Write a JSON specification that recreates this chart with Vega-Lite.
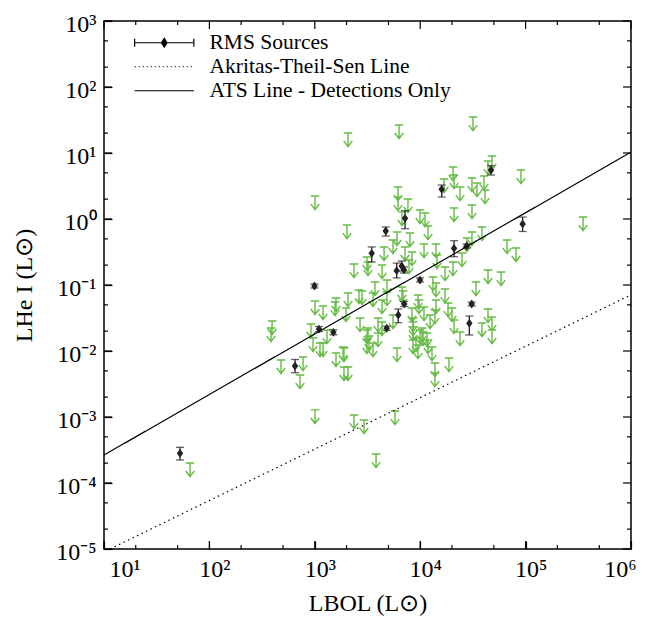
{
  "$schema": "https://vega.github.io/schema/vega-lite/v6.json",
  "width": 527,
  "height": 528,
  "autosize": "none",
  "padding": {"left": 104, "top": 21, "right": 20, "bottom": 71},
  "background": "white",
  "config": {
    "view": {"stroke": "black", "strokeWidth": 1.5},
    "axis": {
      "grid": false,
      "domain": false,
      "zindex": 1,
      "ticks": true,
      "tickColor": "black",
      "tickOpacity": 1,
      "tickWidth": 1.2,
      "labelFont": "Liberation Serif",
      "labelFontSize": 24,
      "labelColor": "black",
      "titleFont": "Liberation Serif",
      "titleFontSize": 24,
      "titleFontWeight": "normal",
      "titleColor": "black",
      "labelOverlap": false
    },
    "legend": {
      "labelFont": "Liberation Serif",
      "labelFontSize": 21.5,
      "labelColor": "black",
      "labelLimit": 400
    }
  },
  "datasets": {
    "xmajor": [{"v":10},{"v":100},{"v":1000},{"v":10000},{"v":100000},{"v":1000000}],
    "xminor": [{"v":20},{"v":50},{"v":200},{"v":500},{"v":2000},{"v":5000},{"v":20000},{"v":50000},{"v":200000},{"v":500000}],
    "ymajor": [{"v":0.00001},{"v":0.0001},{"v":0.001},{"v":0.01},{"v":0.1},{"v":1},{"v":10},{"v":100},{"v":1000}],
    "yminor": [{"v":0.00002},{"v":0.00005},{"v":0.0002},{"v":0.0005},{"v":0.002},{"v":0.005},{"v":0.02},{"v":0.05},{"v":0.2},{"v":0.5},{"v":2},{"v":5},{"v":20},{"v":50},{"v":200},{"v":500}],
    "upper": [
      {"L_bol":2065,"L_hei":20.1},{"L_bol":6295,"L_hei":26.6},{"L_bol":31700,"L_hei":35.1},{"L_bol":1005,"L_hei":2.23},
      {"L_bol":2020,"L_hei":0.811},{"L_bol":47980,"L_hei":9.01},{"L_bol":43990,"L_hei":7.56},{"L_bol":20480,"L_hei":6.14},
      {"L_bol":20940,"L_hei":4.64},{"L_bol":16820,"L_hei":4.04},{"L_bol":30980,"L_hei":4.18},{"L_bol":34590,"L_hei":3.51},
      {"L_bol":40270,"L_hei":4.48},{"L_bol":41210,"L_hei":2.75},{"L_bol":23880,"L_hei":3.05},{"L_bol":90370,"L_hei":5.52},
      {"L_bol":6155,"L_hei":3.05},{"L_bol":6155,"L_hei":2.15},{"L_bol":7656,"L_hei":2.01},{"L_bol":30980,"L_hei":1.63},
      {"L_bol":20940,"L_hei":1.47},{"L_bol":9954,"L_hei":1.37},{"L_bol":11120,"L_hei":1.23},{"L_bol":6714,"L_hei":1.28},
      {"L_bol":11860,"L_hei":0.783},{"L_bol":6026,"L_hei":0.636},{"L_bol":8000,"L_hei":0.614},{"L_bol":5521,"L_hei":0.481},
      {"L_bol":30980,"L_hei":0.636},{"L_bol":38550,"L_hei":0.757},{"L_bol":66680,"L_hei":0.481},{"L_bol":81100,"L_hei":0.364},
      {"L_bol":4539,"L_hei":0.377},{"L_bol":7178,"L_hei":0.377},{"L_bol":8356,"L_hei":0.316},{"L_bol":10870,"L_hei":0.418},
      {"L_bol":14130,"L_hei":0.418},{"L_bol":14430,"L_hei":0.285},{"L_bol":3126,"L_hei":0.266},{"L_bol":3199,"L_hei":0.223},
      {"L_bol":4345,"L_hei":0.201},{"L_bol":2355,"L_hei":0.208},{"L_bol":7830,"L_hei":0.239},{"L_bol":17190,"L_hei":0.187},
      {"L_bol":20480,"L_hei":0.223},{"L_bol":24930,"L_hei":0.305},{"L_bol":27800,"L_hei":0.515},{"L_bol":43990,"L_hei":0.169},
      {"L_bol":58480,"L_hei":0.157},{"L_bol":33810,"L_hei":0.111},{"L_bol":13220,"L_hei":0.132},{"L_bol":14130,"L_hei":0.107},
      {"L_bol":17190,"L_hei":0.0869},{"L_bol":18360,"L_hei":0.0533},{"L_bol":20040,"L_hei":0.0449},{"L_bol":9528,"L_hei":0.0705},
      {"L_bol":9750,"L_hei":0.0593},{"L_bol":10870,"L_hei":0.0464},{"L_bol":14130,"L_hei":0.0593},{"L_bol":12390,"L_hei":0.0351},
      {"L_bol":8356,"L_hei":0.0449},{"L_bol":8551,"L_hei":0.0316},{"L_bol":8551,"L_hei":0.0231},{"L_bol":9954,"L_hei":0.0208},
      {"L_bol":11610,"L_hei":0.0187},{"L_bol":20940,"L_hei":0.0295},{"L_bol":23880,"L_hei":0.0194},{"L_bol":38550,"L_hei":0.0266},
      {"L_bol":43990,"L_hei":0.0433},{"L_bol":47980,"L_hei":0.0327},{"L_bol":47980,"L_hei":0.0208},{"L_bol":6714,"L_hei":0.0933},
      {"L_bol":6871,"L_hei":0.0811},{"L_bol":4842,"L_hei":0.119},{"L_bol":4842,"L_hei":0.0783},{"L_bol":4345,"L_hei":0.0593},
      {"L_bol":5521,"L_hei":0.0351},{"L_bol":3981,"L_hei":0.0316},{"L_bol":4345,"L_hei":0.0275},{"L_bol":3724,"L_hei":0.111},
      {"L_bol":3565,"L_hei":0.0757},{"L_bol":2625,"L_hei":0.084},{"L_bol":2805,"L_hei":0.0811},{"L_bol":2065,"L_hei":0.0757},
      {"L_bol":1589,"L_hei":0.0636},{"L_bol":1977,"L_hei":0.0449},{"L_bol":3199,"L_hei":0.0223},{"L_bol":3266,"L_hei":0.0169},
      {"L_bol":3981,"L_hei":0.0187},{"L_bol":2685,"L_hei":0.0316},{"L_bol":1853,"L_hei":0.0115},{"L_bol":6026,"L_hei":0.0111},
      {"L_bol":9120,"L_hei":0.0157},{"L_bol":11860,"L_hei":0.0147},{"L_bol":350800,"L_hei":1.07},{"L_bol":1005,"L_hei":0.0573},
      {"L_bol":1197,"L_hei":0.0481},{"L_bol":1555,"L_hei":0.0552},{"L_bol":393,"L_hei":0.0285},{"L_bol":384,"L_hei":0.0223},
      {"L_bol":920,"L_hei":0.0257},{"L_bol":1306,"L_hei":0.0208},{"L_bol":962,"L_hei":0.0157},{"L_bol":1120,"L_hei":0.0132},
      {"L_bol":1197,"L_hei":0.0132},{"L_bol":478,"L_hei":0.00731},{"L_bol":773,"L_hei":0.00811},{"L_bol":724,"L_hei":0.00433},
      {"L_bol":1589,"L_hei":0.00933},{"L_bol":1892,"L_hei":0.0111},{"L_bol":1892,"L_hei":0.00573},{"L_bol":2065,"L_hei":0.00573},
      {"L_bol":3126,"L_hei":0.0208},{"L_bol":3126,"L_hei":0.0147},{"L_bol":3565,"L_hei":0.0132},{"L_bol":8551,"L_hei":0.0275},
      {"L_bol":10400,"L_hei":0.0223},{"L_bol":10640,"L_hei":0.0194},{"L_bol":8551,"L_hei":0.0147},{"L_bol":9528,"L_hei":0.0123},
      {"L_bol":12940,"L_hei":0.0115},{"L_bol":13800,"L_hei":0.00658},{"L_bol":13800,"L_hei":0.00464},{"L_bol":18750,"L_hei":0.00783},
      {"L_bol":13800,"L_hei":0.0418},{"L_bol":1005,"L_hei":0.00128},{"L_bol":2355,"L_hei":0.00107},{"L_bol":2930,"L_hei":0.000901},
      {"L_bol":5768,"L_hei":0.00123},{"L_bol":3811,"L_hei":0.000275},{"L_bol":65.5,"L_hei":0.000201}
    ],
    "det": [
      {"L_bol":52.6,"L_hei":0.000282,"lo":0.000223,"hi":0.000347},
      {"L_bol":649,"L_hei":0.00593,"lo":0.00469,"hi":0.00743},
      {"L_bol":993,"L_hei":0.0966,"lo":0.0901,"hi":0.1035},
      {"L_bol":1096,"L_hei":0.0215,"lo":0.0197,"hi":0.0235},
      {"L_bol":1500,"L_hei":0.0192,"lo":0.0176,"hi":0.0209},
      {"L_bol":3467,"L_hei":0.302,"lo":0.223,"hi":0.377},
      {"L_bol":4710,"L_hei":0.658,"lo":0.552,"hi":0.757},
      {"L_bol":7180,"L_hei":1.025,"lo":0.713,"hi":1.336},
      {"L_bol":5985,"L_hei":0.165,"lo":0.128,"hi":0.215},
      {"L_bol":6680,"L_hei":0.194,"lo":0.163,"hi":0.231},
      {"L_bol":7015,"L_hei":0.169,"lo":0.152,"hi":0.187},
      {"L_bol":9950,"L_hei":0.119,"lo":0.111,"hi":0.128},
      {"L_bol":7060,"L_hei":0.0515,"lo":0.0472,"hi":0.0562},
      {"L_bol":6195,"L_hei":0.0351,"lo":0.0269,"hi":0.0433},
      {"L_bol":4810,"L_hei":0.0221,"lo":0.0206,"hi":0.0237},
      {"L_bol":16000,"L_hei":2.82,"lo":2.15,"hi":3.27},
      {"L_bol":47000,"L_hei":5.52,"lo":4.64,"hi":6.43},
      {"L_bol":20950,"L_hei":0.36,"lo":0.268,"hi":0.469},
      {"L_bol":27600,"L_hei":0.39,"lo":0.364,"hi":0.418},
      {"L_bol":93700,"L_hei":0.84,"lo":0.647,"hi":1.07},
      {"L_bol":30800,"L_hei":0.0515,"lo":0.0481,"hi":0.0551},
      {"L_bol":29250,"L_hei":0.0263,"lo":0.0175,"hi":0.0339}
    ],
    "fits": [
      {"series":"Akritas-Theil-Sen Line","L_bol":11.4,"L_hei":0.00001},
      {"series":"Akritas-Theil-Sen Line","L_bol":1000000,"L_hei":0.071},
      {"series":"ATS Line - Detections Only","L_bol":10,"L_hei":0.000265},
      {"series":"ATS Line - Detections Only","L_bol":1000000,"L_hei":10.3}
    ]
  },
  "layer": [
    {
      "data": {"name": "upper"},
      "mark": {
        "type": "point",
        "shape": "M-1,0L1,0M0,0L0,3.2M-1,1.9L0,3.2L1,1.9",
        "filled": false,
        "size": 72,
        "stroke": "#66bb44",
        "strokeWidth": 1.4,
        "opacity": 1
      },
      "encoding": {
        "x": {
          "field": "L_bol", "type": "quantitative",
          "scale": {"type": "log", "domain": [10, 1000000], "nice": false},
          "axis": {
            "orient": "bottom",
            "title": "LBOL  (L⊙)",
            "titlePadding": 10,
            "values": [10,100,1000,10000,100000,1000000],
            "labelExpr": "datum.value == 10 ? '10¹' : datum.value == 100 ? '10²' : datum.value == 1000 ? '10³' : datum.value == 10000 ? '10⁴' : datum.value == 100000 ? '10⁵' : '10⁶'",
            "ticks": true, "tickColor": "black", "tickWidth": 1.2,
            "tickSize": -8,
            "labelPadding": 16,
            "labelOffset": 5
          }
        },
        "y": {
          "field": "L_hei", "type": "quantitative",
          "scale": {"type": "log", "domain": [0.00001, 1000], "nice": false},
          "axis": {
            "orient": "left",
            "title": "LHe I  (L⊙)",
            "titlePadding": 19,
            "values": [0.00001,0.0001,0.001,0.01,0.1,1,10,100,1000],
            "labelExpr": "'10' + ['⁻⁵','⁻⁴','⁻³','⁻²','⁻¹','⁰','¹','²','³'][round(log(datum.value)/LN10)+5]",
            "ticks": true, "tickColor": "black", "tickWidth": 1.2,
            "tickSize": -8,
            "labelPadding": 16,
            "labelOffset": 3
          }
        }
      }
    },
    {
      "data": {"name": "det"},
      "mark": {"type": "errorbar", "ticks": {"size": 8}, "thickness": 1.3, "color": "#222222"},
      "encoding": {
        "x": {"field": "L_bol", "type": "quantitative", "scale": {"type": "log", "domain": [10, 1000000], "nice": false}, "axis": null},
        "y": {"field": "lo", "type": "quantitative", "scale": {"type": "log", "domain": [0.00001, 1000], "nice": false}, "axis": null},
        "y2": {"field": "hi"}
      }
    },
    {
      "data": {"name": "det"},
      "mark": {"type": "point", "shape": "M0,-1.1L0.8,0L0,1.1L-0.8,0Z", "filled": true, "size": 64, "color": "#222222", "opacity": 1},
      "encoding": {
        "x": {"field": "L_bol", "type": "quantitative", "scale": {"type": "log", "domain": [10, 1000000], "nice": false}, "axis": null},
        "y": {"field": "L_hei", "type": "quantitative", "scale": {"type": "log", "domain": [0.00001, 1000], "nice": false}, "axis": null}
      }
    },
    {
      "data": {"name": "fits"},
      "mark": {"type": "line", "color": "black", "strokeWidth": 1.2},
      "encoding": {
        "x": {"field": "L_bol", "type": "quantitative", "scale": {"type": "log", "domain": [10, 1000000], "nice": false}, "axis": null},
        "y": {"field": "L_hei", "type": "quantitative", "scale": {"type": "log", "domain": [0.00001, 1000], "nice": false}, "axis": null},
        "strokeDash": {
          "field": "series", "type": "nominal", "legend": null,
          "scale": {"domain": ["Akritas-Theil-Sen Line", "ATS Line - Detections Only"], "range": [[1.5, 3.5], [1, 0]]}
        }
      }
    },
    {
      "data": {"name": "xmajor"},
      "mark": {"type": "tick", "orient": "vertical", "size": 8, "thickness": 1.2, "color": "black", "opacity": 1, "yOffset": -4},
      "encoding": {
        "x": {"field": "v", "type": "quantitative", "scale": {"type": "log", "domain": [10, 1000000], "nice": false}, "axis": null},
        "y": {"datum": 0.00001, "type": "quantitative", "scale": {"type": "log", "domain": [0.00001, 1000], "nice": false}, "axis": null}
      }
    },
    {
      "data": {"name": "xmajor"},
      "mark": {"type": "tick", "orient": "vertical", "size": 8, "thickness": 1.2, "color": "black", "opacity": 1, "yOffset": 4},
      "encoding": {
        "x": {"field": "v", "type": "quantitative", "scale": {"type": "log", "domain": [10, 1000000], "nice": false}, "axis": null},
        "y": {"datum": 1000, "type": "quantitative", "scale": {"type": "log", "domain": [0.00001, 1000], "nice": false}, "axis": null}
      }
    },
    {
      "data": {"name": "xminor"},
      "mark": {"type": "tick", "orient": "vertical", "size": 4, "thickness": 1.2, "color": "black", "opacity": 1, "yOffset": -2},
      "encoding": {
        "x": {"field": "v", "type": "quantitative", "scale": {"type": "log", "domain": [10, 1000000], "nice": false}, "axis": null},
        "y": {"datum": 0.00001, "type": "quantitative", "scale": {"type": "log", "domain": [0.00001, 1000], "nice": false}, "axis": null}
      }
    },
    {
      "data": {"name": "xminor"},
      "mark": {"type": "tick", "orient": "vertical", "size": 4, "thickness": 1.2, "color": "black", "opacity": 1, "yOffset": 2},
      "encoding": {
        "x": {"field": "v", "type": "quantitative", "scale": {"type": "log", "domain": [10, 1000000], "nice": false}, "axis": null},
        "y": {"datum": 1000, "type": "quantitative", "scale": {"type": "log", "domain": [0.00001, 1000], "nice": false}, "axis": null}
      }
    },
    {
      "data": {"name": "ymajor"},
      "mark": {"type": "tick", "orient": "horizontal", "size": 8, "thickness": 1.2, "color": "black", "opacity": 1, "xOffset": 4},
      "encoding": {
        "y": {"field": "v", "type": "quantitative", "scale": {"type": "log", "domain": [0.00001, 1000], "nice": false}, "axis": null},
        "x": {"datum": 10, "type": "quantitative", "scale": {"type": "log", "domain": [10, 1000000], "nice": false}, "axis": null}
      }
    },
    {
      "data": {"name": "ymajor"},
      "mark": {"type": "tick", "orient": "horizontal", "size": 8, "thickness": 1.2, "color": "black", "opacity": 1, "xOffset": -4},
      "encoding": {
        "y": {"field": "v", "type": "quantitative", "scale": {"type": "log", "domain": [0.00001, 1000], "nice": false}, "axis": null},
        "x": {"datum": 1000000, "type": "quantitative", "scale": {"type": "log", "domain": [10, 1000000], "nice": false}, "axis": null}
      }
    },
    {
      "data": {"name": "yminor"},
      "mark": {"type": "tick", "orient": "horizontal", "size": 4, "thickness": 1.2, "color": "black", "opacity": 1, "xOffset": 2},
      "encoding": {
        "y": {"field": "v", "type": "quantitative", "scale": {"type": "log", "domain": [0.00001, 1000], "nice": false}, "axis": null},
        "x": {"datum": 10, "type": "quantitative", "scale": {"type": "log", "domain": [10, 1000000], "nice": false}, "axis": null}
      }
    },
    {
      "data": {"name": "yminor"},
      "mark": {"type": "tick", "orient": "horizontal", "size": 4, "thickness": 1.2, "color": "black", "opacity": 1, "xOffset": -2},
      "encoding": {
        "y": {"field": "v", "type": "quantitative", "scale": {"type": "log", "domain": [0.00001, 1000], "nice": false}, "axis": null},
        "x": {"datum": 1000000, "type": "quantitative", "scale": {"type": "log", "domain": [10, 1000000], "nice": false}, "axis": null}
      }
    },
    {
      "data": {"name": "fits"},
      "mark": {"type": "point", "filled": false, "opacity": 0, "size": 64, "color": "black", "strokeWidth": 1.2},
      "encoding": {
        "x": {"field": "L_bol", "type": "quantitative", "scale": {"type": "log", "domain": [10, 1000000], "nice": false}, "axis": null},
        "y": {"field": "L_hei", "type": "quantitative", "scale": {"type": "log", "domain": [0.00001, 1000], "nice": false}, "axis": null},
        "shape": {
          "field": "series", "type": "nominal",
          "scale": {
            "domain": ["RMS Sources", "Akritas-Theil-Sen Line", "ATS Line - Detections Only"],
            "range": [
              "M-7.4,0L7.4,0M-7.4,-1L-7.4,1M7.4,-1L7.4,1M0,-1.1L0.7,0L0,1.1L-0.7,0ZM0,-0.6L0.35,0L0,0.6L-0.35,0ZM0,-0.9L0,0.9",
              "M-7.4,0L-7.1,0M-6.4,0L-6.1,0M-5.4,0L-5.1,0M-4.4,0L-4.1,0M-3.4,0L-3.1,0M-2.4,0L-2.1,0M-1.4,0L-1.1,0M-0.4,0L-0.1,0M0.6,0L0.9,0M1.6,0L1.9,0M2.6,0L2.9,0M3.6,0L3.9,0M4.6,0L4.9,0M5.6,0L5.9,0M6.6,0L6.9,0",
              "M-7.4,0L7.4,0"
            ]
          },
          "legend": {
            "title": null,
            "orient": "none",
            "legendX": 49.5,
            "legendY": 11,
            "padding": 0,
            "rowPadding": 1,
            "labelOffset": 34.5,
            "symbolSize": 64,
            "symbolOpacity": 1,
            "symbolStrokeColor": "black",
            "symbolFillColor": "black",
            "symbolStrokeWidth": 1.2
          }
        }
      }
    }
  ],
  "resolve": {"axis": {"x": "independent", "y": "independent"}}
}
